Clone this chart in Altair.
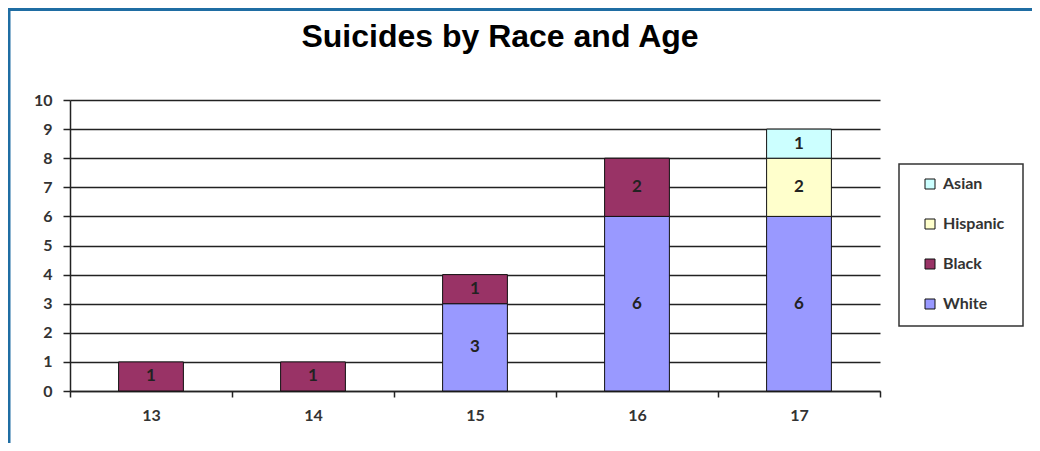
import altair as alt
import pandas as pd

ages = ["13", "14", "15", "16", "17"]
races = ["White", "Black", "Hispanic", "Asian"]
white = [0, 0, 3, 6, 6]
black = [1, 1, 1, 2, 0]
hispanic = [0, 0, 0, 0, 2]
asian = [0, 0, 0, 0, 1]
legend_order = ["Asian", "Hispanic", "Black", "White"]
colors = {"Asian": "#ccffff", "Hispanic": "#ffffcc", "Black": "#993366", "White": "#9999ff"}
y_ticks = list(range(0, 11))

rows = []
for series, name in zip([white, black, hispanic, asian], races):
    for a, v in zip(ages, series):
        if v > 0:
            rows.append({"age": a, "race": name, "count": v, "order": races.index(name)})
df = pd.DataFrame(rows)

FONT = "Lato"

x_scale = alt.Scale(paddingInner=0, paddingOuter=0)
x_axis = alt.Axis(labelAngle=0, tickBand="extent", tickSize=6, tickColor="#222",
                  tickWidth=1.5, domainColor="#222", domainWidth=1.5,
                  labelFont=FONT, labelFontWeight="bold", labelFontSize=16,
                  labelColor="#333", labelPadding=10, grid=False)
y_scale = alt.Scale(domain=[0, 10], nice=False)
y_axis = alt.Axis(values=y_ticks, tickSize=7, tickColor="#222", tickWidth=1.5,
                  domainColor="#222", domainWidth=1.5, gridColor="#222",
                  gridWidth=1.5, labelFont=FONT, labelFontWeight="bold",
                  labelFontSize=16, labelColor="#333", labelPadding=11,
                  labelOverlap=False)

base = alt.Chart(df)

bars = base.mark_bar(stroke="#111", strokeWidth=1, width=alt.RelativeBandSize(0.4)).encode(
    x=alt.X("age:N", sort=ages, title=None, scale=x_scale, axis=x_axis),
    y=alt.Y("count:Q", stack="zero", title=None, scale=y_scale, axis=y_axis),
    color=alt.Color("race:N", scale=alt.Scale(domain=legend_order,
                                              range=[colors[r] for r in legend_order]),
                    legend=alt.Legend(title=None, orient="none", legendX=852, legendY=76,
                                      padding=0, symbolType="square", symbolSize=100,
                                      symbolStrokeColor="#111", symbolStrokeWidth=1,
                                      symbolOffset=0, rowPadding=24,
                                      labelFont=FONT, labelFontWeight="bold",
                                      labelFontSize=16, labelColor="#333", labelOffset=5)),
    order=alt.Order("order:Q", sort="ascending"),
)

labels = base.transform_window(
    cum="sum(count)", groupby=["age"], sort=[alt.SortField("order")]
).transform_calculate(mid="datum.cum - datum.count / 2").mark_text(
    font=FONT, fontWeight="bold", fontSize=17, color="#222"
).encode(
    x=alt.X("age:N", sort=ages, title=None, scale=x_scale, axis=x_axis),
    y=alt.Y("mid:Q", title=None, scale=y_scale, axis=y_axis),
    text="count:Q",
)

frame = alt.Chart(pd.DataFrame({"k": [0]})).mark_rect(
    fill=None, stroke="#1f6da3", strokeWidth=3
).encode(x=alt.value(-61), x2=alt.value(1000), y=alt.value(-90.5), y2=alt.value(400))

legend_box = alt.Chart(pd.DataFrame({"k": [0]})).mark_rect(
    fill=None, stroke="#333", strokeWidth=1.5
).encode(x=alt.value(829), x2=alt.value(953), y=alt.value(64), y2=alt.value(226))

title = alt.Chart(pd.DataFrame({"t": ["Suicides by Race and Age"]})).mark_text(
    font="Liberation Sans", fontWeight="bold", fontSize=32, color="#000"
).encode(x=alt.value(430), y=alt.value(-63), text="t:N")

chart = alt.layer(bars, labels, frame, legend_box, title).properties(
    width=810, height=291,
    autosize=alt.AutoSizeParams(type="none"),
    padding={"left": 62, "top": 92, "right": 152, "bottom": 52},
).configure_view(stroke=None)

chart.save("out.html", embed_options={"renderer": "svg", "actions": False})
